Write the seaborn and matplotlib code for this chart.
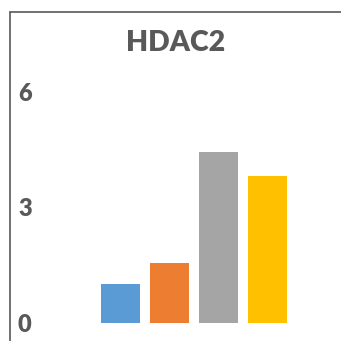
import matplotlib
matplotlib.use("Agg")
import matplotlib.pyplot as plt
from matplotlib.lines import Line2D
import seaborn as sns
import pandas as pd

# Relative HDAC2 levels for the four groups
groups = ["G1", "G2", "G3", "G4"]
values = [1.0, 1.55, 4.45, 3.82]
colors = ["#5B9BD5", "#ED7D31", "#A5A5A5", "#FFC000"]
yticks = [0, 3, 6]
title = "HDAC2"

sns.set_theme(style="white")
plt.rcParams["font.family"] = ["Lato", "DejaVu Sans"]

W = H = 341
fig = plt.figure(figsize=(W / 100, H / 100), dpi=100)

# axes area in pixels
left_px, right_px = 40, 330
top_px, bottom_px = 92, 322.5
ax = fig.add_axes([left_px / W, (H - bottom_px) / H,
                   (right_px - left_px) / W, (bottom_px - top_px) / H])

df = pd.DataFrame({"group": groups, "value": values})
sns.barplot(data=df, x="group", y="value", hue="group", palette=colors,
            width=0.8, legend=False, ax=ax, saturation=1, linewidth=0)

ax.set_ylim(0, 6)
step = 49.0
c0 = 120.5
ax.set_xlim(-(c0 - left_px) / step, (right_px - c0) / step)
ax.set_yticks(yticks)
ax.set_yticklabels([str(t) for t in yticks], fontsize=17, fontweight="heavy",
                   color="#595959")
ax.tick_params(axis="y", length=0, pad=6)
ax.set_xticks([])
ax.set_xlabel("")
ax.set_ylabel("")
for s in ax.spines.values():
    s.set_visible(False)

fig.text(176 / W, 1 - 43 / H, title, ha="center", va="center",
         fontsize=20.5, fontweight="heavy", color="#595959")

# chart frame
frame_color = "#595959"
fig.add_artist(Line2D([9.5 / W, 9.5 / W], [0, 1 - 11.5 / H],
                      color=frame_color, lw=1.2))
fig.add_artist(Line2D([9.5 / W, 1.0], [1 - 11.5 / H, 1 - 11.5 / H],
                      color=frame_color, lw=1.2))

fig.savefig("out.png", dpi=100, facecolor="white")
